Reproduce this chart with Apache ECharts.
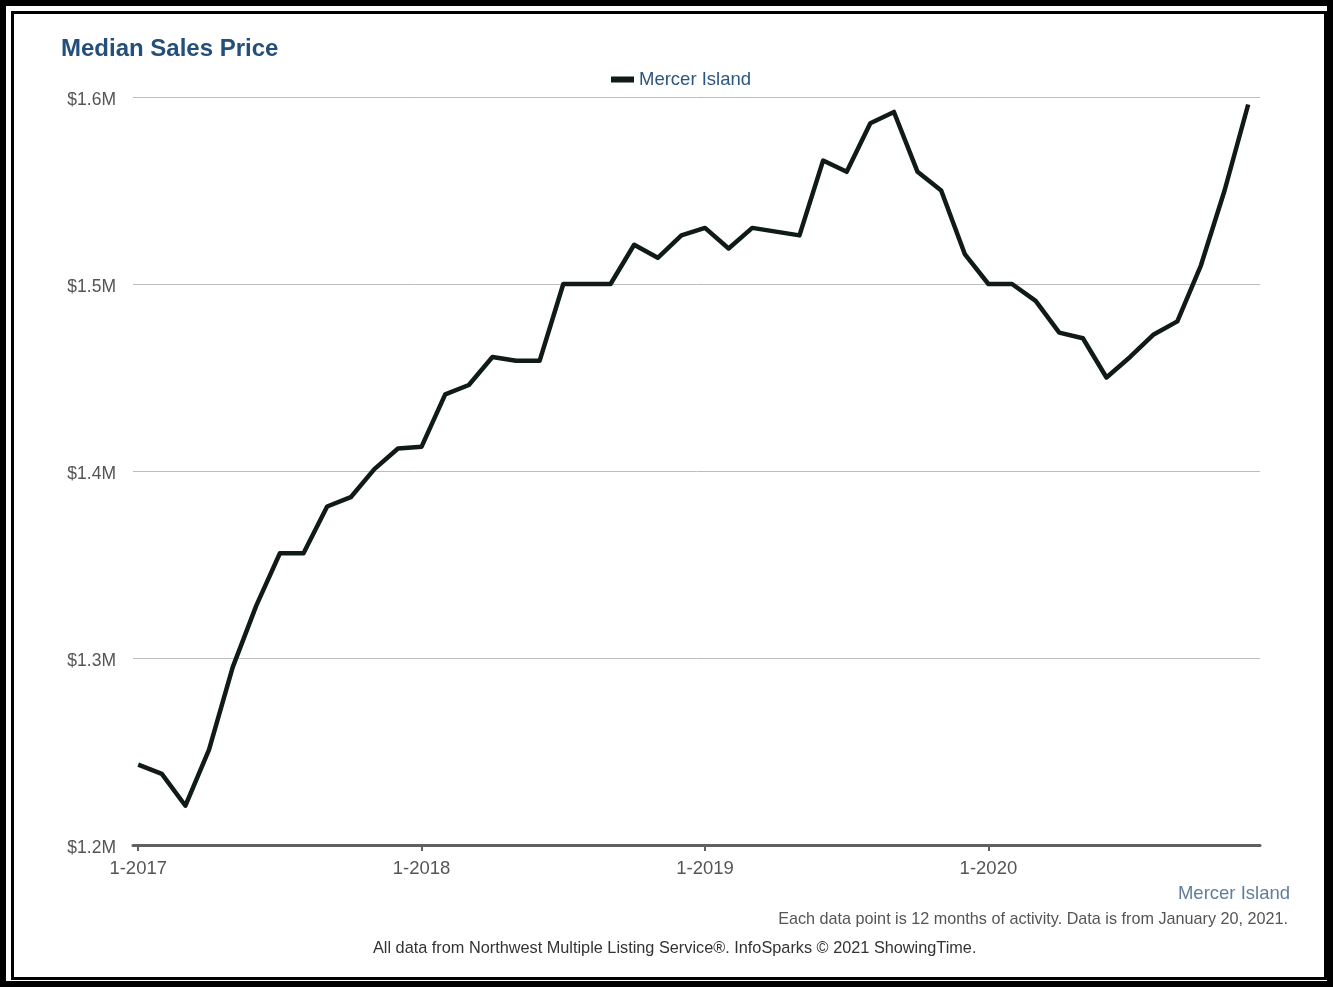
<!DOCTYPE html>
<html>
<head>
<meta charset="utf-8">
<script src="https://cdn.jsdelivr.net/npm/echarts@6/dist/echarts.min.js"></script>
<style>
  html, body { margin: 0; padding: 0; background: #fff; }
  #outer { position: absolute; left: 0; top: 0; width: 1333px; height: 987px; box-sizing: border-box; border: 6px solid #000; }
  #inner { position: absolute; left: 11px; top: 11px; right: 6px; bottom: 7px; box-sizing: border-box; border: 3px solid #000; }
  #chart { position: absolute; left: 0; top: 0; width: 1333px; height: 987px; }
</style>
</head>
<body>
<div id="outer"></div>
<div id="inner"></div>
<div id="chart"></div>
<script>
// Months Jan 2017 .. Dec 2020
const months = [];
for (let y = 2017; y <= 2020; y++) for (let m = 1; m <= 12; m++) months.push(m + '-' + y);

const seriesName = 'Mercer Island';
const medianPrice = [
  1243000, 1238000, 1221000, 1251000, 1295000, 1328000, 1356000, 1356000, 1381000, 1386000, 1401000, 1412000,
  1413000, 1441000, 1446000, 1461000, 1459000, 1459000, 1500000, 1500000, 1500000, 1521000, 1514000, 1526000,
  1530000, 1519000, 1530000, 1528000, 1526000, 1566000, 1560000, 1586000, 1592000, 1560000, 1550000, 1516000,
  1500000, 1500000, 1491000, 1474000, 1471000, 1450000, 1461000, 1473000, 1480000, 1510000, 1550000, 1596000
];
const xTickIndex = [0, 12, 24, 36];
const yTickLabels = ['$1.2M', '$1.3M', '$1.4M', '$1.5M', '$1.6M'];

const chart = echarts.init(document.getElementById('chart'));
const font = '"Liberation Sans", Arial, sans-serif';
chart.setOption({
  animation: false,
  textStyle: { fontFamily: font },
  title: [
    { text: 'Median Sales Price', left: 56, top: 32, textStyle: { fontFamily: font, fontSize: 24, fontWeight: 'bold', color: '#234f7a' } },
    { text: 'Mercer Island', right: 38, top: 879, textStyle: { fontFamily: font, fontSize: 18.5, fontWeight: 'normal', color: '#5f7e9b' } },
    { text: 'Each data point is 12 months of activity. Data is from January 20, 2021.', right: 40, top: 907, textStyle: { fontFamily: font, fontSize: 16.2, fontWeight: 'normal', color: '#555' } },
    { text: 'All data from Northwest Multiple Listing Service®. InfoSparks © 2021 ShowingTime.', left: 368, top: 936, textStyle: { fontFamily: font, fontSize: 16.3, fontWeight: 'normal', color: '#333' } }
  ],
  legend: {
    data: [seriesName], left: 606, top: 65, icon: 'rect', itemWidth: 23, itemHeight: 6, itemGap: 8,
    textStyle: { fontFamily: font, fontSize: 18.5, color: '#2c5680' }
  },
  grid: { left: 133, right: 73, top: 97, bottom: 142, containLabel: false },
  xAxis: {
    type: 'value', min: -0.22, max: 47.5,
    axisLine: { show: true, lineStyle: { color: '#606060', width: 3 } },
    axisTick: { show: true, customValues: xTickIndex, length: 6, inside: false, lineStyle: { color: '#606060', width: 2 } },
    axisLabel: { customValues: xTickIndex, formatter: v => months[Math.round(v)], fontSize: 18.5, color: '#555', margin: 14 },
    splitLine: { show: false }
  },
  yAxis: {
    type: 'value', min: 1200000, max: 1600000, interval: 100000,
    axisLine: { show: false }, axisTick: { show: false },
    axisLabel: { formatter: v => yTickLabels[Math.round((v - 1200000) / 100000)], fontSize: 17.5, color: '#555', margin: 17, verticalAlign: 'top', lineHeight: 7 },
    splitLine: { lineStyle: { color: '#bdbdbd', width: 1 } }
  },
  series: [{
    name: seriesName, type: 'line', showSymbol: false,
    data: medianPrice.map((v, i) => [i, v]),
    lineStyle: { color: '#101a17', width: 4.5, join: 'round' },
    itemStyle: { color: '#101a17' }
  }]
});
</script>
</body>
</html>
